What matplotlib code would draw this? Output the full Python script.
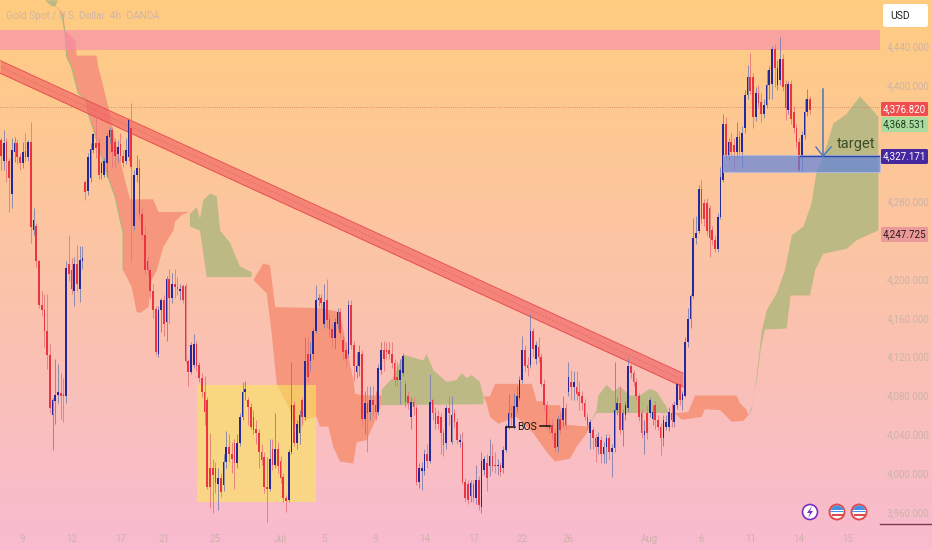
import numpy as np
import matplotlib
matplotlib.use("Agg")
import matplotlib.pyplot as plt
from matplotlib.patches import Circle, FancyBboxPatch, Polygon, Rectangle, Wedge

plt.rcParams['font.family'] = ['Roboto', 'DejaVu Sans']

# candles (4h bars)
opens = [4343,4321,4341,4321,4288,4331,4340,4326,4319,4332,
         4326,4341,4250,4255,4218,4173,4168,4146,4122,4060,
         4074,4081,4083,4082,4079,4215,4209,4188,4215,4190,
         4218,4300,4291,4304,4333,4340,4340,4309,4307,4319,
         4346,4353,4341,4329,4339,4327,4322,4326,4355,4255,
         4307,4314,4267,4245,4219,4209,4188,4169,4123,4168,
         4178,4156,4200,4180,4195,4192,4188,4193,4193,4116,
         4104,4111,4133,4111,4098,4084,4075,4005,4005,4005,
         3989,3995,3988,4012,4027,4020,4031,4010,4031,4058,
         4084,4075,4068,4058,4046,4041,4022,4017,3986,3984,
         4025,4008,4025,4013,3996,3974,3972,4022,4070,4031,
         4041,4075,4058,4123,4116,4123,4146,4178,4180,4154,
         4178,4159,4149,4139,4154,4166,4137,4127,4123,4173,
         4132,4104,4110,4123,4056,4072,4063,4075,4070,4063,
         4106,4127,4127,4127,4123,4113,4099,4096,4103,4092,
         4080,4058,4073,4067,3991,4002,4002,4020,4013,4075,
         4062,4059,4058,4041,4031,4067,4032,4062,4053,4032,
         4032,3991,3989,3977,3989,3974,3993,3965,4003,4010,
         4007,4018,4008,4007,4008,4005,4024,4048,4062,4049,
         4068,4077,4096,4127,4111,4111,4146,4118,4130,4120,
         4092,4070,4050,4050,4041,4027,4056,4055,4067,4084,
         4094,4089,4089,4084,4080,4072,4058,4041,4044,4036,
         4027,4034,4020,4027,4036,4022,4026,4065,4072,4044,
         4060,4067,4110,4103,4094,4079,4062,4039,4062,4062,
         4056,4070,4055,4048,4036,4048,4048,4062,4053,4070,
         4092,4075,4080,4135,4159,4182,4242,4249,4293,4278,
         4278,4273,4250,4240,4231,4264,4302,4360,4327,4341,
         4338,4331,4346,4331,4355,4389,4408,4408,4367,4392,
         4382,4370,4379,4400,4401,4437,4400,4405,4427,4401,
         4374,4401,4372,4355,4341,4326,4348,4372,4385]
closes = [4327,4340,4321,4304,4333,4340,4326,4319,4331,4326,
          4341,4254,4261,4218,4173,4168,4146,4122,4067,4075,
          4081,4084,4080,4079,4211,4205,4190,4215,4195,4220,
          4222,4290,4326,4334,4349,4335,4307,4319,4322,4347,
          4353,4331,4327,4336,4327,4319,4333,4364,4315,4307,
          4314,4267,4245,4209,4209,4188,4168,4125,4168,4178,
          4154,4200,4180,4195,4192,4190,4190,4178,4116,4104,
          4132,4133,4110,4098,4084,4063,3986,3986,3998,3990,
          3995,3981,4012,4027,4020,4015,4010,4031,4058,4084,
          4087,4068,4048,4044,4041,4022,4014,3986,3984,4015,
          4008,4025,4007,3995,3974,3971,4022,4070,4031,4051,
          4060,4058,4116,4099,4123,4146,4178,4180,4175,4176,
          4158,4149,4139,4156,4166,4144,4125,4118,4173,4132,
          4110,4110,4125,4056,4072,4062,4075,4070,4063,4108,
          4127,4118,4125,4123,4113,4096,4096,4106,4121,4073,
          4072,4073,4068,3991,4005,4005,4020,4013,4073,4062,
          4051,4051,4041,4029,4067,4062,4060,4053,4034,4034,
          3991,3974,3972,3990,3974,3993,3967,4013,4015,3995,
          4018,4007,4007,4008,4001,4024,4048,4062,4058,4069,
          4079,4096,4127,4110,4108,4146,4128,4132,4120,4092,
          4070,4048,4046,4041,4026,4056,4044,4067,4050,4099,
          4089,4094,4082,4080,4072,4058,4050,4053,4036,4027,
          4037,4020,4027,4036,4022,4026,4065,4072,4044,4062,
          4070,4110,4103,4094,4079,4058,4041,4043,4041,4075,
          4063,4055,4048,4036,4055,4053,4063,4055,4070,4092,
          4075,4082,4135,4159,4182,4242,4247,4293,4262,4262,
          4249,4242,4240,4231,4264,4305,4360,4327,4341,4331,
          4331,4346,4331,4350,4389,4408,4394,4367,4392,4381,
          4370,4379,4400,4415,4437,4417,4417,4427,4398,4376,
          4401,4365,4355,4341,4312,4348,4372,4385,4374]
highs = [4345,4353,4345,4325,4345,4346,4343,4330,4341,4350,
         4343,4362,4273,4258,4220,4188,4185,4185,4133,4077,
         4118,4112,4103,4098,4218,4245,4222,4223,4235,4234,
         4234,4302,4330,4340,4350,4367,4345,4322,4325,4350,
         4356,4356,4345,4343,4350,4333,4345,4366,4381,4312,
         4328,4324,4274,4255,4224,4212,4195,4172,4172,4180,
         4183,4203,4210,4206,4210,4202,4195,4195,4196,4118,
         4135,4143,4136,4114,4103,4100,4078,4041,4015,4012,
         4005,4000,4020,4043,4040,4032,4035,4040,4062,4094,
         4095,4078,4072,4065,4055,4045,4030,4022,4017,4035,
         4035,4062,4032,4018,4000,3978,4025,4115,4074,4055,
         4065,4078,4140,4140,4135,4150,4194,4185,4185,4195,
         4200,4165,4155,4160,4170,4170,4142,4135,4178,4178,
         4136,4125,4132,4127,4085,4090,4090,4090,4085,4112,
         4135,4136,4135,4135,4135,4118,4115,4118,4124,4096,
         4085,4078,4078,4070,4010,4012,4025,4030,4102,4078,
         4068,4065,4062,4045,4070,4080,4080,4066,4057,4040,
         4042,3995,3993,3993,3993,4008,3997,4022,4018,4020,
         4035,4030,4022,4015,4012,4028,4051,4082,4070,4083,
         4090,4100,4141,4132,4120,4164,4150,4136,4140,4124,
         4097,4074,4056,4056,4046,4060,4062,4080,4072,4115,
         4106,4105,4105,4095,4085,4076,4062,4056,4048,4040,
         4042,4038,4032,4040,4040,4030,4115,4078,4090,4066,
         4074,4119,4112,4106,4098,4083,4066,4055,4070,4078,
         4070,4074,4060,4052,4060,4060,4068,4072,4074,4094,
         4096,4085,4140,4170,4185,4263,4265,4297,4302,4282,
         4283,4276,4255,4245,4268,4315,4370,4367,4345,4350,
         4345,4362,4352,4358,4395,4420,4433,4412,4398,4400,
         4392,4385,4415,4419,4440,4442,4425,4449,4432,4405,
         4404,4405,4378,4360,4345,4352,4385,4396,4388]
lows = [4312,4312,4300,4269,4273,4320,4318,4312,4314,4322,
        4322,4237,4245,4212,4170,4162,4130,4107,4062,4024,
        4051,4072,4056,4053,4072,4198,4185,4172,4188,4176,
        4210,4281,4286,4300,4330,4325,4303,4303,4305,4305,
        4340,4315,4315,4320,4322,4315,4318,4322,4219,4250,
        4300,4262,4240,4205,4204,4180,4160,4122,4120,4145,
        4141,4136,4155,4175,4180,4183,4178,4175,4113,4090,
        4102,4108,4105,4094,4078,4050,3984,3964,3959,3980,
        3962,3975,3982,4005,4012,4000,3984,4005,4028,4055,
        4075,4050,4045,4040,4030,4005,4008,3980,3948,3982,
        4003,4005,4000,3990,3970,3960,3970,4020,4028,4025,
        4030,4050,4055,4095,4105,4118,4144,4172,4170,4150,
        4150,4140,4130,4128,4148,4140,4118,4110,4120,4128,
        4095,4098,4100,4050,4040,4022,4055,4060,4055,4060,
        4102,4105,4118,4118,4108,4090,4090,4071,4100,4068,
        4066,4045,4060,3988,3985,3983,3998,4005,4010,4055,
        4045,4045,4020,4018,4025,4050,4030,4048,4030,4027,
        3989,3970,3968,3970,3970,3968,3962,3959,3998,3982,
        3997,4002,4000,3998,3997,4000,4022,4045,4050,4045,
        4063,4075,4093,4105,4100,4108,4120,4112,4115,4090,
        4065,4045,4040,4035,4022,4022,4040,4048,4045,4080,
        4075,4075,4075,4065,4065,4055,4044,4025,4025,4012,
        4020,4010,4010,4010,4015,3996,4022,4060,4040,4028,
        4055,4063,4098,4090,4075,4054,4036,4020,4035,4058,
        4050,4045,4044,4019,4028,4044,4043,4048,4048,4066,
        4070,4065,4078,4130,4150,4180,4236,4247,4258,4255,
        4245,4223,4235,4228,4228,4262,4300,4325,4323,4327,
        4312,4325,4327,4315,4350,4385,4390,4355,4363,4376,
        4362,4366,4376,4385,4385,4398,4395,4400,4394,4364,
        4370,4360,4350,4335,4310,4310,4344,4368,4370]

# ichimoku cloud outlines, bar number and price
red1_bars = [19.9,23.0,23.6,27.3,27.9,35.2,35.9,37.1,39.5,41.4,44.5,47.5,56.1,58.0,69.4,66.6,64.1,63.5,59.8,57.4,55.5,54.3,51.2,50.0,48.1,45.0,45.0,42.0,38.9,35.2,32.2,31.3,28.5,26.0,24.2,23.6,22.4]
red1_price = [4482,4473,4456,4446,4430,4430,4417,4405,4377,4350,4315,4282,4282,4269,4269,4266,4259,4250,4233,4209,4199,4171,4165,4166,4192,4209,4247,4285,4309,4343,4370,4384,4391,4418,4429,4453,4473]
green0_bars = [16.2,21.0,19.9,18.2]
green0_price = [4487,4487,4480,4482]
green1_bars = [69.6,72.1,73.3,74.5,77.0,79.5,80.7,84.4,88.0,92.3,92.3,75.8,73.3,69.6]
green1_price = [4267,4274,4262,4281,4288,4285,4250,4237,4213,4207,4202,4202,4250,4254]
red2_bars = [93.0,96.6,99.1,101.0,117.5,121.2,124.9,127.3,129.8,130.4,133.5,140.2,140.2,138.4,134.7,131.0,129.8,124.9,122.4,120.6,117.5,116.3,112.0,110.8,108.3,105.9,101.6,99.7,97.9]
red2_price = [4199,4216,4214,4171,4170,4168,4166,4130,4096,4082,4080,4080,4072,4058,4034,4032,4010,4012,4027,4048,4048,4058,4055,4046,4048,4068,4092,4144,4185]
green2_bars = [140.2,144.5,148.2,153.1,155.6,156.8,159.3,164.2,167.8,169.7,171.5,173.4,176.4,177.7,177.7,140.2]
green2_price = [4086,4099,4122,4118,4116,4123,4106,4094,4096,4103,4098,4101,4094,4079,4071,4070]
red3_bars = [177.7,180.1,182.0,195.5,197.3,199.8,201.0,205.9,207.8,215.7,217.0,215.7,212.0,209.6,204.1,201.0,196.1,189.9,183.2,180.1,178.9]
red3_price = [4079,4079,4092,4092,4074,4074,4070,4070,4050,4048,4051,4041,4027,4015,4012,4022,4041,4058,4051,4058,4072]
green3_bars = [217.0,219.4,220.0,223.1,225.6,228.0,231.7,235.4,239.1,241.5,245.2,245.8,245.8,219.4]
green3_price = [4051,4065,4080,4091,4084,4089,4080,4080,4087,4084,4068,4063,4062,4062]
red4_bars = [247.1,248.9,253.2,255.7,271.0,272.2,274.7,275.3,273.5,269.2,264.9,259.3,258.1,250.8,248.9]
red4_price = [4062,4062,4063,4080,4080,4072,4065,4060,4054,4053,4065,4066,4058,4055,4060]
green4_bars = [275.3,277.2,279.6,280.2,282.1,285.7,288.8,291.3,295.6,298.6,300.5,302.3,304.8,306.6,311.5,316.4,320.1,323.2,323.2,315.2,311.5,302.9,299.9,298.0,290.9,289.4,281.4,279.9,278.4,276.5]
green4_price = [4058,4074,4130,4146,4168,4185,4209,4245,4254,4278,4312,4322,4343,4360,4370,4388,4377,4367,4250,4240,4231,4226,4209,4183,4183,4149,4148,4128,4096,4065]

# 4240, 4320 and 4360 sit behind the price tags in the original
price_ticks = [3960,4000,4040,4080,4120,4160,4200,4280,4400,4440]
date_ticks = [8,26,44,60,79,103,119,138,156,174,192,209,239,258,276,294,312]
date_labels = ['9','12','17','21','25','Jul','5','9','14','17','22','26','Aug','6','11','14','15']

last_price = 4376.82
resistance_low, resistance_high = 4436, 4456
trend_bars = [-0.37, 251.2]
trend_top = [4425, 4103]
trend_bottom = [4412, 4089]
box_bars = [72.2, 116.0]
box_prices = [3970, 4091]
target_bars = [266.0, 323.8]
target_prices = [4310, 4327.5]

RED = '#ec3340'
BLUE = '#23289c'
CLOUD_RED = '#f5967d'
CLOUD_GREEN = '#bdb985'
AXIS_GREY = '#cdb3a8'

fig = plt.figure(figsize=(9.32, 5.5), dpi=100)

bg = fig.add_axes([0, 0, 1, 1], zorder=0)
top_col = np.array([255, 204, 128]) / 255
bot_col = np.array([248, 187, 208]) / 255
t = np.linspace(0, 1, 550)[:, None, None]
bg.imshow(top_col * (1 - t) + bot_col * t, aspect='auto')
bg.axis('off')

ax = fig.add_axes([0, 27 / 550, 880 / 932, 523 / 550], zorder=1)
ax.patch.set_alpha(0)
ax.set_xlim(-0.37, 323.8)
ax.set_ylim(3948.7, 4487.3)

# cloud
for bx, py, col in [(red1_bars, red1_price, CLOUD_RED), (green0_bars, green0_price, CLOUD_GREEN),
                    (green1_bars, green1_price, CLOUD_GREEN), (red2_bars, red2_price, CLOUD_RED),
                    (green2_bars, green2_price, CLOUD_GREEN), (red3_bars, red3_price, CLOUD_RED),
                    (green3_bars, green3_price, CLOUD_GREEN), (red4_bars, red4_price, CLOUD_RED),
                    (green4_bars, green4_price, CLOUD_GREEN)]:
    ax.fill(bx, py, color=col, lw=0, zorder=1)
ax.plot(red1_bars[-12:], red1_price[-12:], color='#a9b77c', lw=0.8, zorder=1.1)

# zones
ax.axhspan(resistance_low, resistance_high, color='#f78ab0', alpha=0.6, lw=0, zorder=2)
ax.fill_between(box_bars, box_prices[0], box_prices[1], color='#fae75a', alpha=0.6, lw=0, zorder=2)
ax.fill_between(trend_bars, trend_bottom, trend_top, color='#f16664', alpha=0.68, lw=0, zorder=2.2)
ax.plot(trend_bars, trend_top, color='#e8504f', lw=0.7, zorder=2.3)
ax.plot(trend_bars, trend_bottom, color='#e8504f', lw=0.7, zorder=2.3)
ax.plot(trend_bars, [(a + b) / 2 for a, b in zip(trend_top, trend_bottom)],
        color='#e8504f', lw=0.5, ls='--', alpha=0.5, zorder=2.3)
ax.axhline(last_price, color='#d9786a', lw=0.6, ls=':', zorder=2.4)

# candles
idx = np.arange(len(opens))
o = np.array(opens)
c = np.array(closes)
up = c >= o
ax.vlines(idx[up], np.array(lows)[up], np.array(highs)[up], color='#7d80ae', lw=0.6, zorder=3)
ax.vlines(idx[~up], np.array(lows)[~up], np.array(highs)[~up], color='#e8767c', lw=0.6, zorder=3)
ax.bar(idx[up], (c - o)[up], bottom=o[up], width=0.62, color=BLUE, lw=0, zorder=3.2)
ax.bar(idx[~up], (c - o)[~up], bottom=o[~up], width=0.62, color=RED, lw=0, zorder=3.2)

# target zone sits over the candles
ax.fill_between(target_bars, target_prices[0], target_prices[1], color='#5a82e0', alpha=0.68,
                edgecolor='#b4c0ec', lw=0.8, zorder=4)
ax.plot([294.5, 323.8], [4327, 4327], color='#2f46a8', lw=1.0, zorder=4.1)
ax.plot([302.8, 302.8], [4396, 4326.5], color='#4a78b8', lw=1.1, zorder=4.2)
ax.plot([300.2, 302.8, 305.8], [4336, 4326.5, 4336], color='#4a78b8', lw=1.0, zorder=4.2)
ax.text(307.9, 4339, 'target', fontsize=10.5, color='#3b4f28', va='center', ha='left', zorder=5)

# BOS marker
ax.plot([186, 189.3], [4048, 4048], color='#111111', lw=1.1, zorder=5)
ax.plot([198.5, 202.2], [4048.5, 4048.5], color='#111111', lw=1.1, zorder=5)
ax.text(193.9, 4048, 'BOS', fontsize=7.5, color='#111111', ha='center', va='center', zorder=5)

# axes
ax.yaxis.tick_right()
ax.set_yticks(price_ticks)
ax.set_yticklabels([f'{v:,.3f}' for v in price_ticks], fontsize=7, color=AXIS_GREY)
ax.set_xticks(date_ticks)
ax.set_xticklabels(date_labels, fontsize=7, color=AXIS_GREY)
ax.tick_params(axis='both', length=0)
ax.tick_params(axis='y', pad=5)
ax.tick_params(axis='x', pad=8)
for s in ax.spines.values():
    s.set_visible(False)

# overlay in pixels for the price tags and event icons
ov = fig.add_axes([0, 0, 1, 1], zorder=2)
ov.set_xlim(0, 932)
ov.set_ylim(550, 0)
ov.axis('off')

ov.text(6, 16, 'Gold Spot / U.S. Dollar  4h  OANDA', fontsize=7.2, color='#d0b4a6', va='center')
ov.plot([880, 932], [523.5, 523.5], color='#7a3b4a', lw=1.0)

ov.add_patch(FancyBboxPatch((883, 4), 45, 23, boxstyle='round,pad=0,rounding_size=2.5',
                            fc='white', ec='none'))
ov.text(890, 16, 'USD', fontsize=7.5, color='#222222', va='center')


def price_tag(y0, y1, face, txt, tcol):
    ov.add_patch(FancyBboxPatch((881, y0), 47, y1 - y0, boxstyle='round,pad=0,rounding_size=1.5',
                                fc=face, ec='none'))
    ov.text(904.5, (y0 + y1) / 2, txt, fontsize=7, color=tcol, ha='center', va='center')


price_tag(102, 116, '#ef4d50', '4,376.820', 'white')
price_tag(117, 132, '#aadca0', '4,368.531', '#1f3a1f')
price_tag(149, 164, '#4527a0', '4,327.171', 'white')
price_tag(227, 242, '#eb9a9a', '4,247.725', '#2a1a1a')

# event icons
ov.add_patch(Circle((810, 512), 7.5, fc='white', ec='#7b2fbf', lw=1.2))
ov.add_patch(Polygon([(812, 506), (807, 513), (810, 513), (808, 518), (813, 511), (810, 511)],
                     fc='#7b2fbf', ec='none'))
for fx in (837, 859):
    ov.add_patch(Circle((fx, 512), 7.5, fc='white', ec='#e04a4a', lw=1.4, zorder=5))
    ov.add_patch(Wedge((fx, 512), 6.6, 180, 360, fc='#4a90e0', ec='none', zorder=5.1))
    ov.add_patch(Rectangle((fx - 5.5, 514), 11, 1.8, fc='#e04a4a', ec='none', zorder=5.2))
    ov.add_patch(Rectangle((fx - 6.5, 510), 13, 1.2, fc='white', ec='none', zorder=5.2))

fig.savefig('out.png', dpi=100)
